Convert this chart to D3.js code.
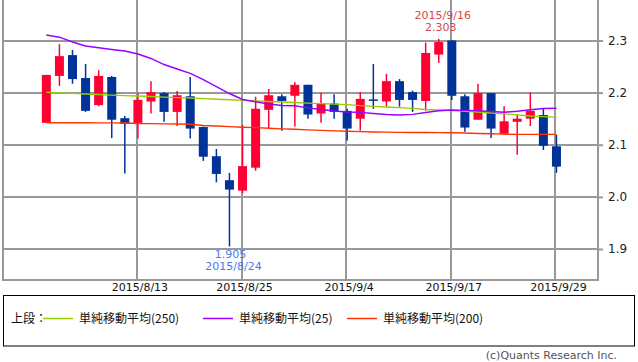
<!DOCTYPE html>
<html>
<head>
<meta charset="utf-8">
<script src="https://cdn.jsdelivr.net/npm/d3@7"></script>
<style>
  body { margin: 0; background: #fff; }
  svg text { font-family: "DejaVu Sans", sans-serif; }
</style>
</head>
<body>
<div id="chart"></div>
<script>
// daily candles, 2015/8/4 - 2015/9/29
const dates = ["8/4","8/5","8/6","8/7","8/10","8/11","8/12","8/13","8/14","8/17",
  "8/18","8/19","8/20","8/21","8/24","8/25","8/26","8/27","8/28","8/31",
  "9/1","9/2","9/3","9/4","9/8","9/9","9/10","9/11","9/14","9/15",
  "9/16","9/17","9/18","9/21","9/22","9/23","9/24","9/25","9/28","9/29"];
const open  = [2.142,2.232,2.272,2.228,2.176,2.230,2.151,2.142,2.183,2.199,
  2.163,2.193,2.134,2.078,2.032,2.012,2.056,2.167,2.193,2.194,
  2.215,2.160,2.179,2.165,2.150,2.187,2.183,2.222,2.201,2.184,
  2.273,2.300,2.193,2.148,2.199,2.121,2.144,2.150,2.157,2.097];
const high  = [2.234,2.293,2.282,2.255,2.243,2.232,2.155,2.199,2.222,2.201,
  2.203,2.230,2.135,2.092,2.046,2.138,2.192,2.207,2.197,2.220,
  2.215,2.200,2.197,2.169,2.201,2.255,2.236,2.226,2.204,2.296,
  2.303,2.301,2.197,2.217,2.199,2.174,2.158,2.200,2.169,2.119];
const low   = [2.142,2.213,2.217,2.163,2.174,2.113,2.045,2.112,2.160,2.144,
  2.136,2.112,2.069,2.028,1.905,2.007,2.050,2.132,2.127,2.135,
  2.150,2.142,2.150,2.108,2.127,2.169,2.173,2.173,2.163,2.165,
  2.257,2.186,2.125,2.148,2.113,2.119,2.081,2.136,2.090,2.046];
const close = [2.234,2.270,2.226,2.165,2.232,2.148,2.140,2.186,2.201,2.163,
  2.195,2.131,2.077,2.044,2.014,2.059,2.169,2.195,2.184,2.215,
  2.158,2.179,2.163,2.131,2.188,2.186,2.222,2.186,2.186,2.276,
  2.297,2.194,2.133,2.199,2.131,2.145,2.150,2.165,2.098,2.058];

const ma250 = [2.2006,2.1996,2.1985,2.1973,2.1964,2.1952,2.1942,2.1935,2.1927,2.1914,
  2.1904,2.1896,2.1885,2.1873,2.1864,2.1852,2.1841,2.1831,2.1820,2.1810,
  2.1798,2.1789,2.1779,2.1770,2.1750,2.1737,2.1724,2.1712,2.1697,2.1676,
  2.1666,2.1656,2.1643,2.1628,2.1608,2.1593,2.1574,2.1551,2.1539,2.1526];
const ma25 = [2.3106,2.3063,2.2971,2.2894,2.2860,2.2827,2.2798,2.2741,2.2655,2.2539,
  2.2453,2.2370,2.2251,2.2117,2.1983,2.1868,2.1825,2.1781,2.1754,2.1747,
  2.1708,2.1676,2.1647,2.1628,2.1622,2.1599,2.1580,2.1570,2.1583,2.1618,
  2.1651,2.1666,2.1660,2.1651,2.1637,2.1624,2.1643,2.1672,2.1695,2.1699];
const ma200 = [2.1422,2.1422,2.1422,2.1422,2.1420,2.1420,2.1418,2.1407,2.1405,2.1401,
  2.1397,2.1392,2.1370,2.1359,2.1347,2.1336,2.1328,2.1317,2.1305,2.1296,
  2.1286,2.1276,2.1267,2.1259,2.1251,2.1246,2.1242,2.1238,2.1236,2.1234,
  2.1232,2.1230,2.1225,2.1217,2.1211,2.1203,2.1200,2.1200,2.1200,2.1200];

const xTickDates = ["8/13","8/25","9/4","9/17","9/29"];
const yTicks = [1.9, 2.0, 2.1, 2.2, 2.3];

const legendItems = [
  {label: "単純移動平均(250)", color: "#99cc00"},
  {label: "単純移動平均(25)",  color: "#9900ff"},
  {label: "単純移動平均(200)", color: "#ff3300"}
];

const width = 638;
const height = 362;
const plot = {left: 3, right: 598, top: 0, bottom: 280};

const svg = d3.select("#chart")
  .append("svg")
  .attr("width", width)
  .attr("height", height);

const x = d3.scaleBand()
  .domain(dates)
  .range([39.8, 563]);

const y = d3.scaleLinear()
  .domain([1.9, 2.3])
  .range([249, 40.5]);

const cx = d => x(d) + x.bandwidth() / 2;

const data = dates.map((d, i) => ({
  date: d, o: open[i], h: high[i], l: low[i], c: close[i],
  m250: ma250[i], m25: ma25[i], m200: ma200[i]
}));

// grid
let grid = svg.append("g")
  .attr("stroke", "#999")
  .attr("stroke-width", 2)
  .attr("shape-rendering", "crispEdges");

grid.selectAll(".hgrid")
  .data(yTicks)
  .enter()
  .append("line")
  .attr("x1", plot.left)
  .attr("x2", plot.right)
  .attr("y1", d => Math.round(y(d)))
  .attr("y2", d => Math.round(y(d)));

grid.selectAll(".vgrid")
  .data(xTickDates)
  .enter()
  .append("line")
  .attr("x1", d => Math.round(cx(d)) - 1)
  .attr("x2", d => Math.round(cx(d)) - 1)
  .attr("y1", plot.top)
  .attr("y2", plot.bottom);

// frame (left, right, bottom)
svg.append("path")
  .attr("d", `M${plot.left},${plot.top}V${plot.bottom}H${plot.right}V${plot.top}`)
  .attr("fill", "none")
  .attr("stroke", "#999")
  .attr("stroke-width", 2)
  .attr("shape-rendering", "crispEdges");

// y axis on the right
let yAxis = svg.append("g")
  .attr("transform", `translate(${plot.right},0)`)
  .call(d3.axisRight(y).tickValues(yTicks).tickFormat(d3.format(".1f")).tickSize(5).tickPadding(5));
yAxis.select(".domain").remove();
yAxis.selectAll("line").attr("stroke", "#999").attr("stroke-width", 2);
yAxis.selectAll("text")
  .style("font-size", "12px")
  .attr("fill", "#222");

// x labels
svg.selectAll(".xlabel")
  .data(xTickDates)
  .enter()
  .append("text")
  .attr("x", d => cx(d) + 2)
  .attr("y", 291)
  .attr("text-anchor", "middle")
  .style("font-size", "11px")
  .attr("fill", "#111")
  .text(d => "2015/" + d);

// candles
const up = "#ff0033", down = "#003399";
let candles = svg.append("g").selectAll(".candle")
  .data(data)
  .enter()
  .append("g");

candles.append("line")
  .attr("x1", d => cx(d.date))
  .attr("x2", d => cx(d.date))
  .attr("y1", d => y(d.h))
  .attr("y2", d => y(d.l))
  .attr("stroke", d => d.c >= d.o ? up : down)
  .attr("stroke-width", 1.5);

candles.append("rect")
  .attr("x", d => cx(d.date) - 4.5)
  .attr("width", 9)
  .attr("y", d => y(Math.max(d.o, d.c)))
  .attr("height", d => Math.max(1.5, Math.abs(y(d.o) - y(d.c))))
  .attr("fill", d => d.c >= d.o ? up : down);

// moving averages
const maKeys = ["m250", "m25", "m200"];
maKeys.forEach((k, i) => {
  let line = d3.line()
    .x(d => cx(d.date))
    .y(d => y(d[k]));
  svg.append("path")
    .datum(data)
    .attr("fill", "none")
    .attr("stroke", legendItems[i].color)
    .attr("stroke-width", 1.4)
    .attr("d", line);
});

// high / low notes
const hiIdx = d3.maxIndex(high);
const loIdx = d3.minIndex(low);

svg.append("text")
  .attr("x", cx(dates[hiIdx]) + 4)
  .attr("y", 19)
  .attr("text-anchor", "middle")
  .style("font-size", "11px")
  .attr("fill", "#d84848")
  .text("2015/" + dates[hiIdx]);
svg.append("text")
  .attr("x", cx(dates[hiIdx]) + 2)
  .attr("y", 31)
  .attr("text-anchor", "middle")
  .style("font-size", "11px")
  .attr("fill", "#d84848")
  .text(d3.format(".3f")(high[hiIdx]));

svg.append("text")
  .attr("x", cx(dates[loIdx]) + 1)
  .attr("y", 258)
  .attr("text-anchor", "middle")
  .style("font-size", "11px")
  .attr("fill", "#4a78f0")
  .text(d3.format(".3f")(low[loIdx]));
svg.append("text")
  .attr("x", cx(dates[loIdx]) + 4)
  .attr("y", 270)
  .attr("text-anchor", "middle")
  .style("font-size", "11px")
  .attr("fill", "#4a78f0")
  .text("2015/" + dates[loIdx]);

// legend
let legend = svg.append("g");
legend.append("rect")
  .attr("x", 3.5)
  .attr("y", 295.5)
  .attr("width", 631)
  .attr("height", 50.5)
  .attr("fill", "none")
  .attr("stroke", "#000")
  .attr("stroke-width", 1);

legend.append("text")
  .attr("x", 11)
  .attr("y", 322.5)
  .style("font-family", "'Noto Sans CJK JP', sans-serif")
  .style("font-size", "12px")
  .attr("fill", "#111")
  .text("上段：");

const legendX = [43, 203, 347];
legendItems.forEach((item, i) => {
  legend.append("line")
    .attr("x1", legendX[i])
    .attr("x2", legendX[i] + 30)
    .attr("y1", 318.5)
    .attr("y2", 318.5)
    .attr("stroke", item.color)
    .attr("stroke-width", 1.5);
  legend.append("text")
    .attr("x", legendX[i] + 36)
    .attr("y", 322.5)
    .style("font-family", "'Noto Sans CJK JP', sans-serif")
    .style("font-size", "12px")
    .attr("fill", "#111")
    .text(item.label);
});

svg.append("text")
  .attr("x", 617)
  .attr("y", 359)
  .attr("text-anchor", "end")
  .style("font-size", "11px")
  .attr("fill", "#555")
  .text("(c)Quants Research Inc.");
</script>
</body>
</html>
